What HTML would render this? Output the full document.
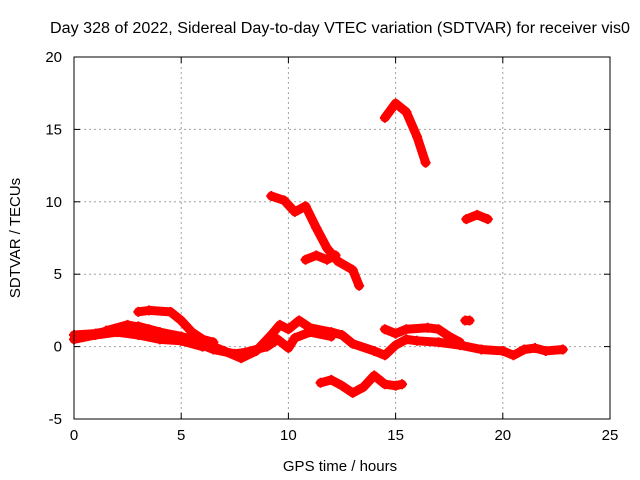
<!DOCTYPE html>
<html><head><meta charset="utf-8"><style>
body{margin:0;background:#fff}
svg{display:block;font-family:"Liberation Sans",sans-serif}
</style></head><body>
<svg id="chart" width="640" height="480">
<rect width="640" height="480" fill="#fff"/>
<text x="340" y="33" font-size="15.5" text-anchor="middle" textLength="580" lengthAdjust="spacingAndGlyphs">Day 328 of 2022, Sidereal Day-to-day VTEC variation (SDTVAR) for receiver vis0</text>
<g id="grid"></g>
<g id="series"></g>
<rect x="74" y="57" width="536" height="362" fill="none" stroke="#000" stroke-width="1"/>
<g id="ticks"></g>
<text x="340" y="471" font-size="15" text-anchor="middle">GPS time / hours</text>
<text transform="translate(20,238) rotate(-90)" font-size="15" text-anchor="middle">SDTVAR / TECUs</text>
</svg>
<script>
const xTicks=[0,5,10,15,20,25];
const yTicks=[-5,0,5,10,15,20];
const trackA=[[0,0.8],[1,0.9],[2,1.2],[3,1.4],[4,1.0],[5,0.7],[6,0.3],[7,-0.3],[7.8,-0.8],[8.5,-0.3],[9.2,0.8],[9.6,1.5],[10,1.2],[10.5,1.8],[11,1.3],[12,1.0],[12.5,0.8],[13,0.2],[14,-0.3],[14.5,-0.6],[15,0.1],[15.5,0.5],[16,0.4],[17,0.3],[18,0.1],[19,-0.2],[20,-0.3],[20.5,-0.6],[21,-0.2],[21.5,-0.1],[22,-0.3],[22.8,-0.2]];
const trackB=[[0,0.5],[1,0.8],[2,1.0],[3,0.8],[4,0.5],[5,0.4],[6,0.1],[6.5,-0.2],[7.5,-0.5],[8,-0.4],[9,0.0],[9.5,0.5],[10,-0.1],[10.3,0.6],[11,1.0],[12,0.7]];
const trackC=[[3,2.4],[3.5,2.5],[4.5,2.4],[5,1.8],[5.5,1.0],[6,0.5],[6.5,0.3]];
const trackD=[[1.5,1.1],[2.5,1.5],[3.5,1.2],[4.5,0.8],[5,0.4],[6,0.0]];
const trackE=[[14.5,1.2],[15,0.9],[15.5,1.2],[16.5,1.3],[17,1.2],[17.5,0.7],[18,0.3]];
const trackF=[[18.25,1.8],[18.45,1.8]];
const trackG=[[11.5,-2.5],[12,-2.3],[12.5,-2.7],[13,-3.2],[13.5,-2.8],[14,-2.0],[14.5,-2.6],[15,-2.7],[15.3,-2.6]];
const trackH=[[14.5,15.8],[15,16.8],[15.5,16.2],[16,14.5],[16.4,12.7]];
const trackI=[[9.2,10.4],[9.8,10.1],[10.3,9.3],[10.8,9.7],[11.3,8.2],[11.8,6.8],[12.3,5.9],[13,5.3],[13.3,4.2]];
const trackK=[[10.8,6.0],[11.3,6.3],[11.8,6.0],[12.2,6.3]];
const trackJ=[[18.3,8.8],[18.8,9.1],[19.3,8.8]];
const tracks=[trackA,trackB,trackC,trackD,trackE,trackF,trackG,trackH,trackI,trackK,trackJ];
const NS="http://www.w3.org/2000/svg";
const X0=74,X1=610,Y0=419,Y1=57;
function sx(v){return X0+(v-0)/(25-0)*(X1-X0);}
function sy(v){return Y0-(v+5)/(20+5)*(Y0-Y1);}
function mk(t,a,p){const e=document.createElementNS(NS,t);for(const k in a)e.setAttribute(k,a[k]);p.appendChild(e);return e;}
const grid=document.getElementById('grid'),ticks=document.getElementById('ticks'),ser=document.getElementById('series');
xTicks.forEach(v=>{
 if(v>0&&v<25){const g=mk('line',{x1:sx(v),x2:sx(v),y1:Y1,y2:Y0,stroke:'#a0a0a0','stroke-dasharray':'2,3'},grid);
 
 }
 const t=mk('text',{x:sx(v),y:Y0+21,'font-size':15,'text-anchor':'middle'},ticks);t.textContent=v;
 
 
 mk('line',{x1:sx(v),x2:sx(v),y1:Y0,y2:Y0-6,stroke:'#000'},ticks);
 mk('line',{x1:sx(v),x2:sx(v),y1:Y1,y2:Y1+6,stroke:'#000'},ticks);
});
yTicks.forEach(v=>{
 if(v>-5&&v<20){const g=mk('line',{x1:X0,x2:X1,y1:sy(v),y2:sy(v),stroke:'#a0a0a0','stroke-dasharray':'2,3'},grid);
 
 }
 const t=mk('text',{x:X0-12,y:sy(v)+5,'font-size':15,'text-anchor':'end'},ticks);t.textContent=v;
 
 
 mk('line',{x1:X0,x2:X0+6,y1:sy(v),y2:sy(v),stroke:'#000'},ticks);
 mk('line',{x1:X1,x2:X1-6,y1:sy(v),y2:sy(v),stroke:'#000'},ticks);
});
tracks.forEach((tr,i)=>{
 const pts=tr.map(p=>sx(p[0])+','+sy(p[1])).join(' ');
 const pl=mk('polyline',{points:pts,fill:'none',stroke:'#f00','stroke-width':9,'stroke-linejoin':'round','stroke-linecap':'round'},ser);
 
 
 tr.forEach(p=>{
  const c=mk('path',{d:`M${sx(p[0])-5},${sy(p[1])}h10M${sx(p[0])},${sy(p[1])-5}v10`,stroke:'#f00','stroke-width':2},ser);
  
  
 });
});
</script>
</body></html>
